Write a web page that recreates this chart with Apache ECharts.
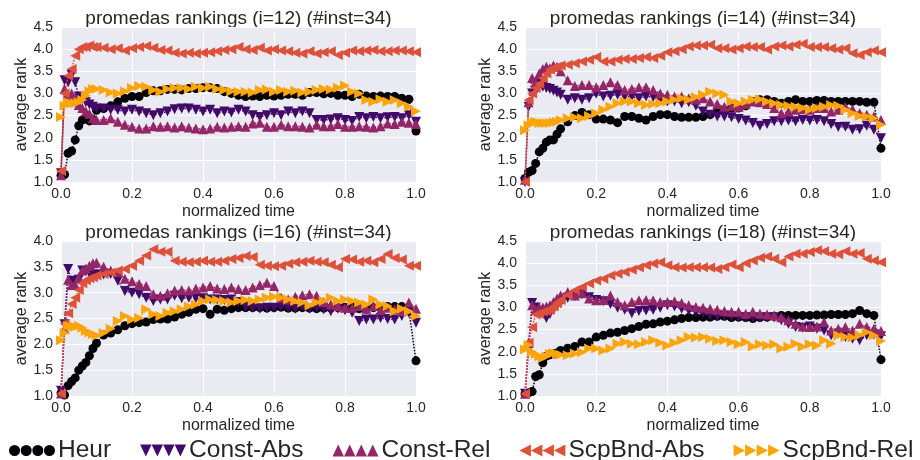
<!DOCTYPE html>
<html>
<head>
<meta charset="utf-8">
<script src="https://cdn.jsdelivr.net/npm/echarts@6/dist/echarts.min.js"></script>
<style>html,body{margin:0;padding:0;background:#fff}#c{width:920px;height:460px}</style>
</head>
<body>
<div id="c"></div>
<script>
// normalized time positions of the samples
const xs = [0,0.01,0.02,0.03,0.04,0.05,0.06,0.07,0.08,0.09,0.10,0.12,0.14,0.16,0.18,0.20,0.22,0.24,0.26,0.28,0.30,0.32,0.34,0.36,0.38,0.40,0.42,0.44,0.46,0.48,0.50,0.52,0.54,0.56,0.58,0.60,0.62,0.64,0.66,0.68,0.70,0.72,0.74,0.76,0.78,0.80,0.82,0.84,0.86,0.88,0.90,0.92,0.94,0.96,0.98,1.00];

const seriesNames = ['Heur','Const-Abs','Const-Rel','ScpBnd-Abs','ScpBnd-Rel'];
const panelTitles = ['promedas rankings (i=12) (#inst=34)','promedas rankings (i=14) (#inst=34)','promedas rankings (i=16) (#inst=34)','promedas rankings (i=18) (#inst=34)'];
const xTicks = [0,0.2,0.4,0.6,0.8,1.0];
const yMaxes = [4.5,4.5,4.0,4.5];

// i=12
const heur12 = [1.15,1.17,1.65,1.7,1.95,2.27,2.4,2.43,2.38,2.4,2.62,2.66,2.72,2.81,2.89,2.93,2.93,3.02,3.06,3.06,3.09,3.09,3.08,3.11,3.11,3.13,3.13,3.11,3.04,3.0,2.96,2.93,2.94,2.93,2.96,2.94,2.96,2.98,2.98,2.96,3.02,3.02,2.99,3.0,2.96,2.96,2.93,2.98,2.94,2.93,2.94,2.93,2.93,2.89,2.87,2.15];
const constAbs12 = [1.2,3.3,3.25,3.42,3.25,2.93,2.88,2.8,2.75,2.7,2.66,2.66,2.63,2.63,2.59,2.63,2.59,2.55,2.51,2.55,2.59,2.64,2.66,2.66,2.63,2.59,2.63,2.55,2.59,2.57,2.63,2.59,2.51,2.47,2.51,2.55,2.51,2.59,2.55,2.59,2.55,2.4,2.4,2.41,2.44,2.4,2.38,2.47,2.44,2.47,2.44,2.46,2.47,2.44,2.51,2.36];
const constRel12 = [1.15,3.1,2.96,3.0,2.9,2.74,2.67,2.59,2.54,2.44,2.4,2.4,2.44,2.36,2.29,2.25,2.21,2.21,2.26,2.25,2.26,2.23,2.26,2.23,2.21,2.19,2.21,2.25,2.23,2.25,2.26,2.25,2.32,2.34,2.25,2.25,2.29,2.26,2.26,2.25,2.23,2.29,2.26,2.26,2.31,2.25,2.25,2.26,2.25,2.23,2.26,2.32,2.31,2.36,2.34,2.31];
const scpAbs12 = [1.25,3.0,3.4,3.55,3.85,4.0,4.05,4.05,4.08,4.05,4.05,4.03,4.0,4.02,3.97,4.02,4.05,4.07,4.03,3.98,3.97,3.92,3.9,3.92,3.9,3.92,3.93,3.95,3.98,4.0,4.05,4.0,3.98,4.03,3.97,4.0,3.97,3.95,3.92,3.9,3.95,3.9,3.93,3.95,3.87,3.92,3.97,3.95,3.97,3.98,3.95,3.95,3.97,3.97,3.95,3.93];
const scpRel12 = [2.47,2.72,2.8,2.78,2.78,2.8,2.85,2.95,3.05,3.1,3.1,3.08,3.02,3.0,3.05,3.12,3.17,3.15,3.08,3.04,3.1,3.12,3.12,3.1,3.15,3.12,3.15,3.1,3.08,3.05,3.04,3.04,3.02,3.08,3.09,3.04,3.08,3.04,3.06,3.02,3.04,3.08,3.1,3.09,3.13,3.18,3.04,3.0,2.85,2.81,2.87,2.81,2.85,2.78,2.7,2.6];

// i=14
const heur14 = [1.08,1.22,1.26,1.42,1.68,1.76,1.9,1.95,1.95,2.08,2.2,2.36,2.5,2.57,2.52,2.42,2.42,2.4,2.34,2.48,2.48,2.44,2.4,2.48,2.52,2.52,2.48,2.46,2.46,2.46,2.48,2.52,2.59,2.63,2.67,2.67,2.72,2.82,2.86,2.86,2.82,2.78,2.82,2.86,2.82,2.82,2.84,2.84,2.82,2.82,2.82,2.82,2.82,2.8,2.8,1.76];
const constAbs14 = [1.0,2.7,3.0,3.05,3.23,3.15,3.12,3.1,3.06,3.02,2.97,2.86,2.89,2.86,2.89,2.99,2.93,2.95,2.97,2.93,2.93,2.89,2.93,2.92,2.86,2.82,2.82,2.78,2.8,2.72,2.59,2.52,2.48,2.48,2.46,2.42,2.39,2.33,2.27,2.31,2.37,2.37,2.39,2.37,2.4,2.39,2.4,2.37,2.31,2.24,2.25,2.18,2.19,2.27,2.18,1.99];
const constRel14 = [1.05,2.8,3.35,3.25,3.45,3.55,3.6,3.57,3.63,3.6,3.5,3.3,3.17,3.19,3.19,3.14,3.19,3.25,3.19,3.08,3.1,3.14,3.14,3.08,3.0,2.97,2.93,2.93,2.89,2.86,2.89,2.82,2.76,2.7,2.72,2.7,2.76,2.82,2.8,2.76,2.67,2.55,2.59,2.63,2.64,2.63,2.67,2.67,2.59,2.63,2.7,2.64,2.55,2.52,2.48,2.4];
const scpAbs14 = [1.0,2.85,3.0,3.12,3.22,3.34,3.45,3.54,3.58,3.6,3.63,3.65,3.68,3.72,3.76,3.82,3.72,3.72,3.76,3.78,3.78,3.8,3.82,3.8,3.85,3.93,3.95,4.0,4.06,4.08,4.08,4.1,4.02,4.02,3.99,4.02,4.06,4.05,4.05,3.99,4.06,4.08,4.06,4.1,4.12,4.05,4.05,4.05,4.02,3.99,4.02,3.91,3.87,3.93,3.97,3.93];
const scpRel14 = [2.17,2.28,2.35,2.36,2.33,2.33,2.33,2.33,2.35,2.36,2.4,2.44,2.46,2.44,2.49,2.55,2.63,2.7,2.78,2.82,2.82,2.78,2.74,2.76,2.78,2.82,2.86,2.89,2.86,2.92,2.97,3.04,3.0,2.97,2.82,2.78,2.82,2.86,2.87,2.82,2.78,2.74,2.72,2.7,2.67,2.63,2.67,2.7,2.74,2.72,2.63,2.55,2.49,2.48,2.44,2.29];

// i=16
const heur16 = [1.06,1.02,1.2,1.28,1.35,1.5,1.58,1.65,1.78,1.92,2.02,2.18,2.22,2.28,2.36,2.4,2.42,2.43,2.48,2.49,2.49,2.53,2.58,2.62,2.68,2.69,2.58,2.68,2.66,2.69,2.71,2.71,2.71,2.71,2.7,2.71,2.72,2.7,2.7,2.71,2.7,2.69,2.7,2.7,2.71,2.72,2.73,2.69,2.68,2.71,2.71,2.73,2.73,2.73,2.66,1.68];
const constAbs16 = [1.1,2.39,3.46,3.23,3.2,3.25,3.43,3.42,3.38,3.35,3.35,3.35,3.36,3.23,3.03,3.0,2.97,2.9,2.84,2.87,2.87,2.94,2.89,2.9,2.89,2.89,2.87,2.87,2.86,2.87,2.82,2.73,2.71,2.69,2.71,2.71,2.73,2.71,2.69,2.73,2.69,2.71,2.68,2.64,2.69,2.66,2.61,2.45,2.48,2.48,2.51,2.49,2.48,2.55,2.61,2.42];
const constRel16 = [1.05,2.3,3.25,3.15,3.15,3.3,3.43,3.47,3.52,3.57,3.58,3.5,3.43,3.4,3.27,3.22,3.17,3.13,2.97,2.94,2.99,3.04,3.05,3.04,3.08,3.1,3.13,3.08,3.07,3.1,3.07,3.05,3.1,3.15,3.19,3.13,2.9,2.87,2.92,2.95,2.97,2.94,2.82,2.77,2.74,2.71,2.71,2.74,2.69,2.74,2.66,2.71,2.68,2.64,2.81,2.69];
const scpAbs16 = [1.05,2.4,2.6,2.78,2.9,3.05,3.18,3.24,3.28,3.3,3.33,3.36,3.39,3.43,3.46,3.52,3.62,3.72,3.84,3.79,3.79,3.62,3.6,3.59,3.6,3.62,3.6,3.6,3.62,3.65,3.67,3.71,3.69,3.54,3.52,3.51,3.52,3.56,3.59,3.6,3.62,3.6,3.59,3.54,3.49,3.65,3.64,3.6,3.62,3.59,3.65,3.75,3.67,3.64,3.52,3.52];
const scpRel16 = [2.08,2.22,2.36,2.34,2.34,2.36,2.32,2.26,2.23,2.2,2.17,2.22,2.3,2.45,2.55,2.48,2.51,2.68,2.58,2.55,2.61,2.64,2.68,2.73,2.77,2.84,2.87,2.86,2.84,2.81,2.84,2.86,2.84,2.87,2.9,2.92,2.9,2.87,2.84,2.81,2.75,2.81,2.84,2.9,2.84,2.87,2.84,2.81,2.77,2.87,2.77,2.74,2.64,2.69,2.64,2.55];

// i=18
const heur18 = [1.05,1.07,1.1,1.44,1.48,1.75,1.9,1.93,1.95,1.97,2.03,2.08,2.12,2.22,2.22,2.33,2.37,2.42,2.44,2.48,2.52,2.57,2.62,2.63,2.67,2.69,2.72,2.75,2.77,2.77,2.78,2.78,2.8,2.8,2.77,2.78,2.77,2.75,2.77,2.78,2.8,2.82,2.82,2.82,2.82,2.82,2.83,2.83,2.84,2.84,2.84,2.86,2.93,2.86,2.82,1.82];
const constAbs18 = [1.05,2.05,3.1,3.0,2.9,2.86,2.76,2.85,2.95,3.03,3.1,3.22,3.25,3.3,3.23,3.17,3.14,3.08,2.99,2.95,2.87,2.92,2.93,2.95,2.99,3.05,3.02,2.97,2.93,2.9,2.87,2.82,2.8,2.82,2.8,2.78,2.78,2.77,2.77,2.78,2.77,2.71,2.63,2.56,2.54,2.57,2.52,2.48,2.37,2.41,2.33,2.29,2.26,2.37,2.39,2.35];
const constRel18 = [1.05,2.2,3.05,2.95,3.0,3.0,3.02,3.05,3.12,3.2,3.27,3.35,3.27,3.32,3.2,3.16,3.17,3.27,3.12,3.05,3.12,3.16,3.17,3.16,3.12,3.12,3.14,3.1,3.05,3.01,2.99,2.97,2.95,2.92,2.9,2.9,2.86,2.9,2.86,2.84,2.82,2.78,2.71,2.63,2.57,2.56,2.57,2.67,2.48,2.52,2.56,2.48,2.63,2.56,2.52,2.47];
const scpAbs18 = [1.05,2.2,2.55,2.84,2.86,2.9,2.92,2.95,3.02,3.1,3.17,3.28,3.39,3.46,3.54,3.61,3.65,3.72,3.76,3.8,3.85,3.9,3.95,3.99,4.02,3.95,3.91,3.9,3.91,3.91,3.91,3.9,3.87,3.91,3.97,3.91,4.0,4.06,4.12,4.15,4.1,4.02,4.15,4.21,4.21,4.25,4.29,4.27,4.21,4.2,4.27,4.21,4.23,4.1,4.06,4.02];
const scpRel18 = [2.05,2.15,2.0,1.95,1.9,1.86,1.9,1.95,1.97,1.95,1.93,1.92,1.96,1.99,2.07,2.07,2.03,2.07,2.18,2.22,2.18,2.17,2.22,2.26,2.2,2.14,2.2,2.26,2.33,2.32,2.33,2.29,2.24,2.26,2.22,2.17,2.22,2.12,2.17,2.14,2.17,2.07,2.11,2.18,2.11,2.17,2.14,2.26,2.18,2.37,2.33,2.32,2.37,2.44,2.37,2.24];

const panels = [
  [heur12, constAbs12, constRel12, scpAbs12, scpRel12],
  [heur14, constAbs14, constRel14, scpAbs14, scpRel14],
  [heur16, constAbs16, constRel16, scpAbs16, scpRel16],
  [heur18, constAbs18, constRel18, scpAbs18, scpRel18]
];

const colors = ['#000004','#420a68','#932667','#dd513a','#fca50a'];
const symbols = ['circle','triangle','triangle','triangle','triangle'];
const rotations = [0,180,0,90,-90];
const sizes = [9,10,10,10,10];
const icons = [
  'path://M0,6a5.5,5.5 0 1,0 11,0a5.5,5.5 0 1,0 -11,0ZM11.6,6a5.5,5.5 0 1,0 11,0a5.5,5.5 0 1,0 -11,0ZM23.2,6a5.5,5.5 0 1,0 11,0a5.5,5.5 0 1,0 -11,0ZM34.8,6a5.5,5.5 0 1,0 11,0a5.5,5.5 0 1,0 -11,0Z',
  'path://M0,0L11.5,0L5.75,12ZM11.5,0L23,0L17.25,12ZM23,0L34.5,0L28.75,12ZM34.5,0L46,0L40.25,12Z',
  'path://M0,12L11.5,12L5.75,0ZM11.5,12L23,12L17.25,0ZM23,12L34.5,12L28.75,0ZM34.5,12L46,12L40.25,0Z',
  'path://M0,6L11.5,0L11.5,12ZM11.5,6L23,0L23,12ZM23,6L34.5,0L34.5,12ZM34.5,6L46,0L46,12Z',
  'path://M0,0L11.5,6L0,12ZM11.5,0L23,6L11.5,12ZM23,0L34.5,6L23,12ZM34.5,0L46,6L34.5,12Z'
];

const FONT = 'Liberation Sans, Arial, sans-serif';
const TXT = '#262626';
const gridBoxes = [
  {left:61, top:27, width:355, height:155},
  {left:525, top:27, width:356, height:155},
  {left:61, top:241, width:355, height:155},
  {left:525, top:241, width:356, height:155}
];

const grids = gridBoxes.map(g => Object.assign({show:true, backgroundColor:'#EAEAF2', borderWidth:0}, g));
const xAxes = gridBoxes.map((g,i) => ({
  type:'value', gridIndex:i, min:0, max:1, interval:0.2,
  axisLine:{show:false}, axisTick:{show:false},
  splitLine:{show:true, lineStyle:{color:'#ffffff', width:1}},
  axisLabel:{fontSize:14, fontFamily:FONT, color:TXT, margin:5, formatter:v=>v.toFixed(1), showMinLabel:true, showMaxLabel:true},
  name:'normalized time', nameLocation:'middle', nameGap:22,
  nameTextStyle:{fontSize:16, fontFamily:FONT, color:TXT}
}));
const yAxes = gridBoxes.map((g,i) => ({
  type:'value', gridIndex:i, min:1, max:yMaxes[i], interval:0.5,
  axisLine:{show:false}, axisTick:{show:false},
  splitLine:{show:true, lineStyle:{color:'#ffffff', width:1}},
  axisLabel:{fontSize:14, fontFamily:FONT, color:TXT, margin:8, formatter:v=>v.toFixed(1), showMinLabel:true, showMaxLabel:true},
  name:'average rank', nameLocation:'middle', nameGap:31, nameRotate:90,
  nameTextStyle:{fontSize:16, fontFamily:FONT, color:TXT}
}));

const series = [];
panels.forEach((arrs, p) => {
  arrs.forEach((vals, s) => {
    series.push({
      name: seriesNames[s], type:'line', xAxisIndex:p, yAxisIndex:p,
      data: vals.map((v,k) => [xs[k], v]),
      symbol: symbols[s], symbolSize: sizes[s], symbolRotate: rotations[s],
      showSymbol:true, showAllSymbol:true, clip:true,
      lineStyle:{type:'dotted', width:1.5, color:colors[s]},
      itemStyle:{color:colors[s], borderWidth:0},
      emphasis:{disabled:true}, z: 2 + s
    });
  });
});

const titles = gridBoxes.map((g,i) => ({
  type:'text', x: g.left + g.width/2, y: g.top - 8,
  style:{text: panelTitles[i], font:'19px ' + FONT, fill: TXT, textAlign:'center', textVerticalAlign:'middle'}
}));

const chart = echarts.init(document.getElementById('c'), null, {renderer:'canvas'});
chart.setOption({
  animation:false,
  backgroundColor:'#ffffff',
  grid: grids, xAxis: xAxes, yAxis: yAxes, series: series,
  graphic: titles,
  legend: {
    left:4, top:433, width:940, orient:'horizontal', selectedMode:false,
    itemWidth:46, itemHeight:12, itemGap:29,
    textStyle:{fontSize:24.5, fontFamily:FONT, color:TXT, padding:[0,0,0,-2]},
    data: seriesNames.map((n,i) => ({name:n, icon:icons[i], itemStyle:{color:colors[i]}}))
  }
});
</script>
</body>
</html>
